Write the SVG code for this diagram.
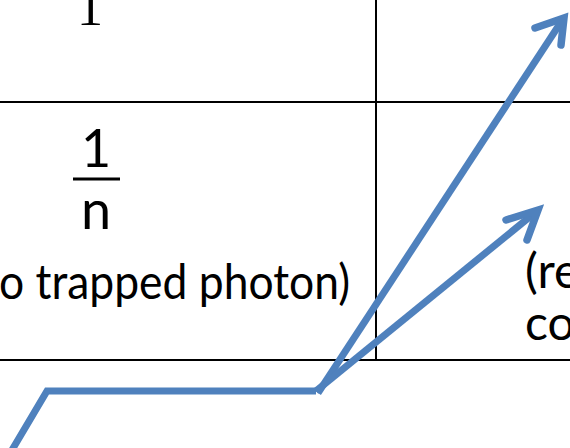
<svg xmlns="http://www.w3.org/2000/svg" width="570" height="448" viewBox="0 0 570 448">
<style>
.grid{stroke:#000;stroke-width:2;fill:none}
.ray{stroke:#4F81BD;stroke-width:7;fill:none;stroke-linejoin:miter}
.head{stroke:#4F81BD;stroke-width:7.5;fill:none;stroke-linecap:round;stroke-linejoin:miter}
.t{font-family:Lato,"Liberation Sans",sans-serif;font-size:48px;fill:#000}
</style>
<rect width="570" height="448" fill="#fff"/>
<g id="table">
<line class="grid" x1="0" y1="102" x2="570" y2="102"/>
<line class="grid" x1="0" y1="360" x2="570" y2="360"/>
<line class="grid" x1="376" y1="0" x2="376" y2="360"/>
</g>
<g id="cell-top">
<text x="90" y="25" text-anchor="middle" style="font-family:'Liberation Serif',serif;font-size:52px">1</text>
</g>
<g id="cell-fraction">
<text class="t" x="96" y="167" text-anchor="middle" style="font-size:52px">1</text>
<line x1="73" y1="179" x2="120" y2="179" stroke="#000" stroke-width="3"/>
<text class="t" x="96" y="229" text-anchor="middle" style="font-size:54px">n</text>
<text class="t" x="-1" y="299" textLength="351" lengthAdjust="spacingAndGlyphs">o trapped photon)</text>
</g>
<g id="cell-right">
<text class="t" x="525" y="288">(re</text>
<text class="t" x="525" y="340">co</text>
</g>
<g id="connectors">
<path class="ray" d="M12,450 L47,391 L316,391"/>
<path class="ray" d="M318,393 L563,19"/>
<path class="ray" d="M316,391 L537,211"/>
<path class="head" d="M535,28 L564,18 L561,45"/>
<path class="head" d="M506,220 L538,210 L527,240"/>
</g>
</svg>
